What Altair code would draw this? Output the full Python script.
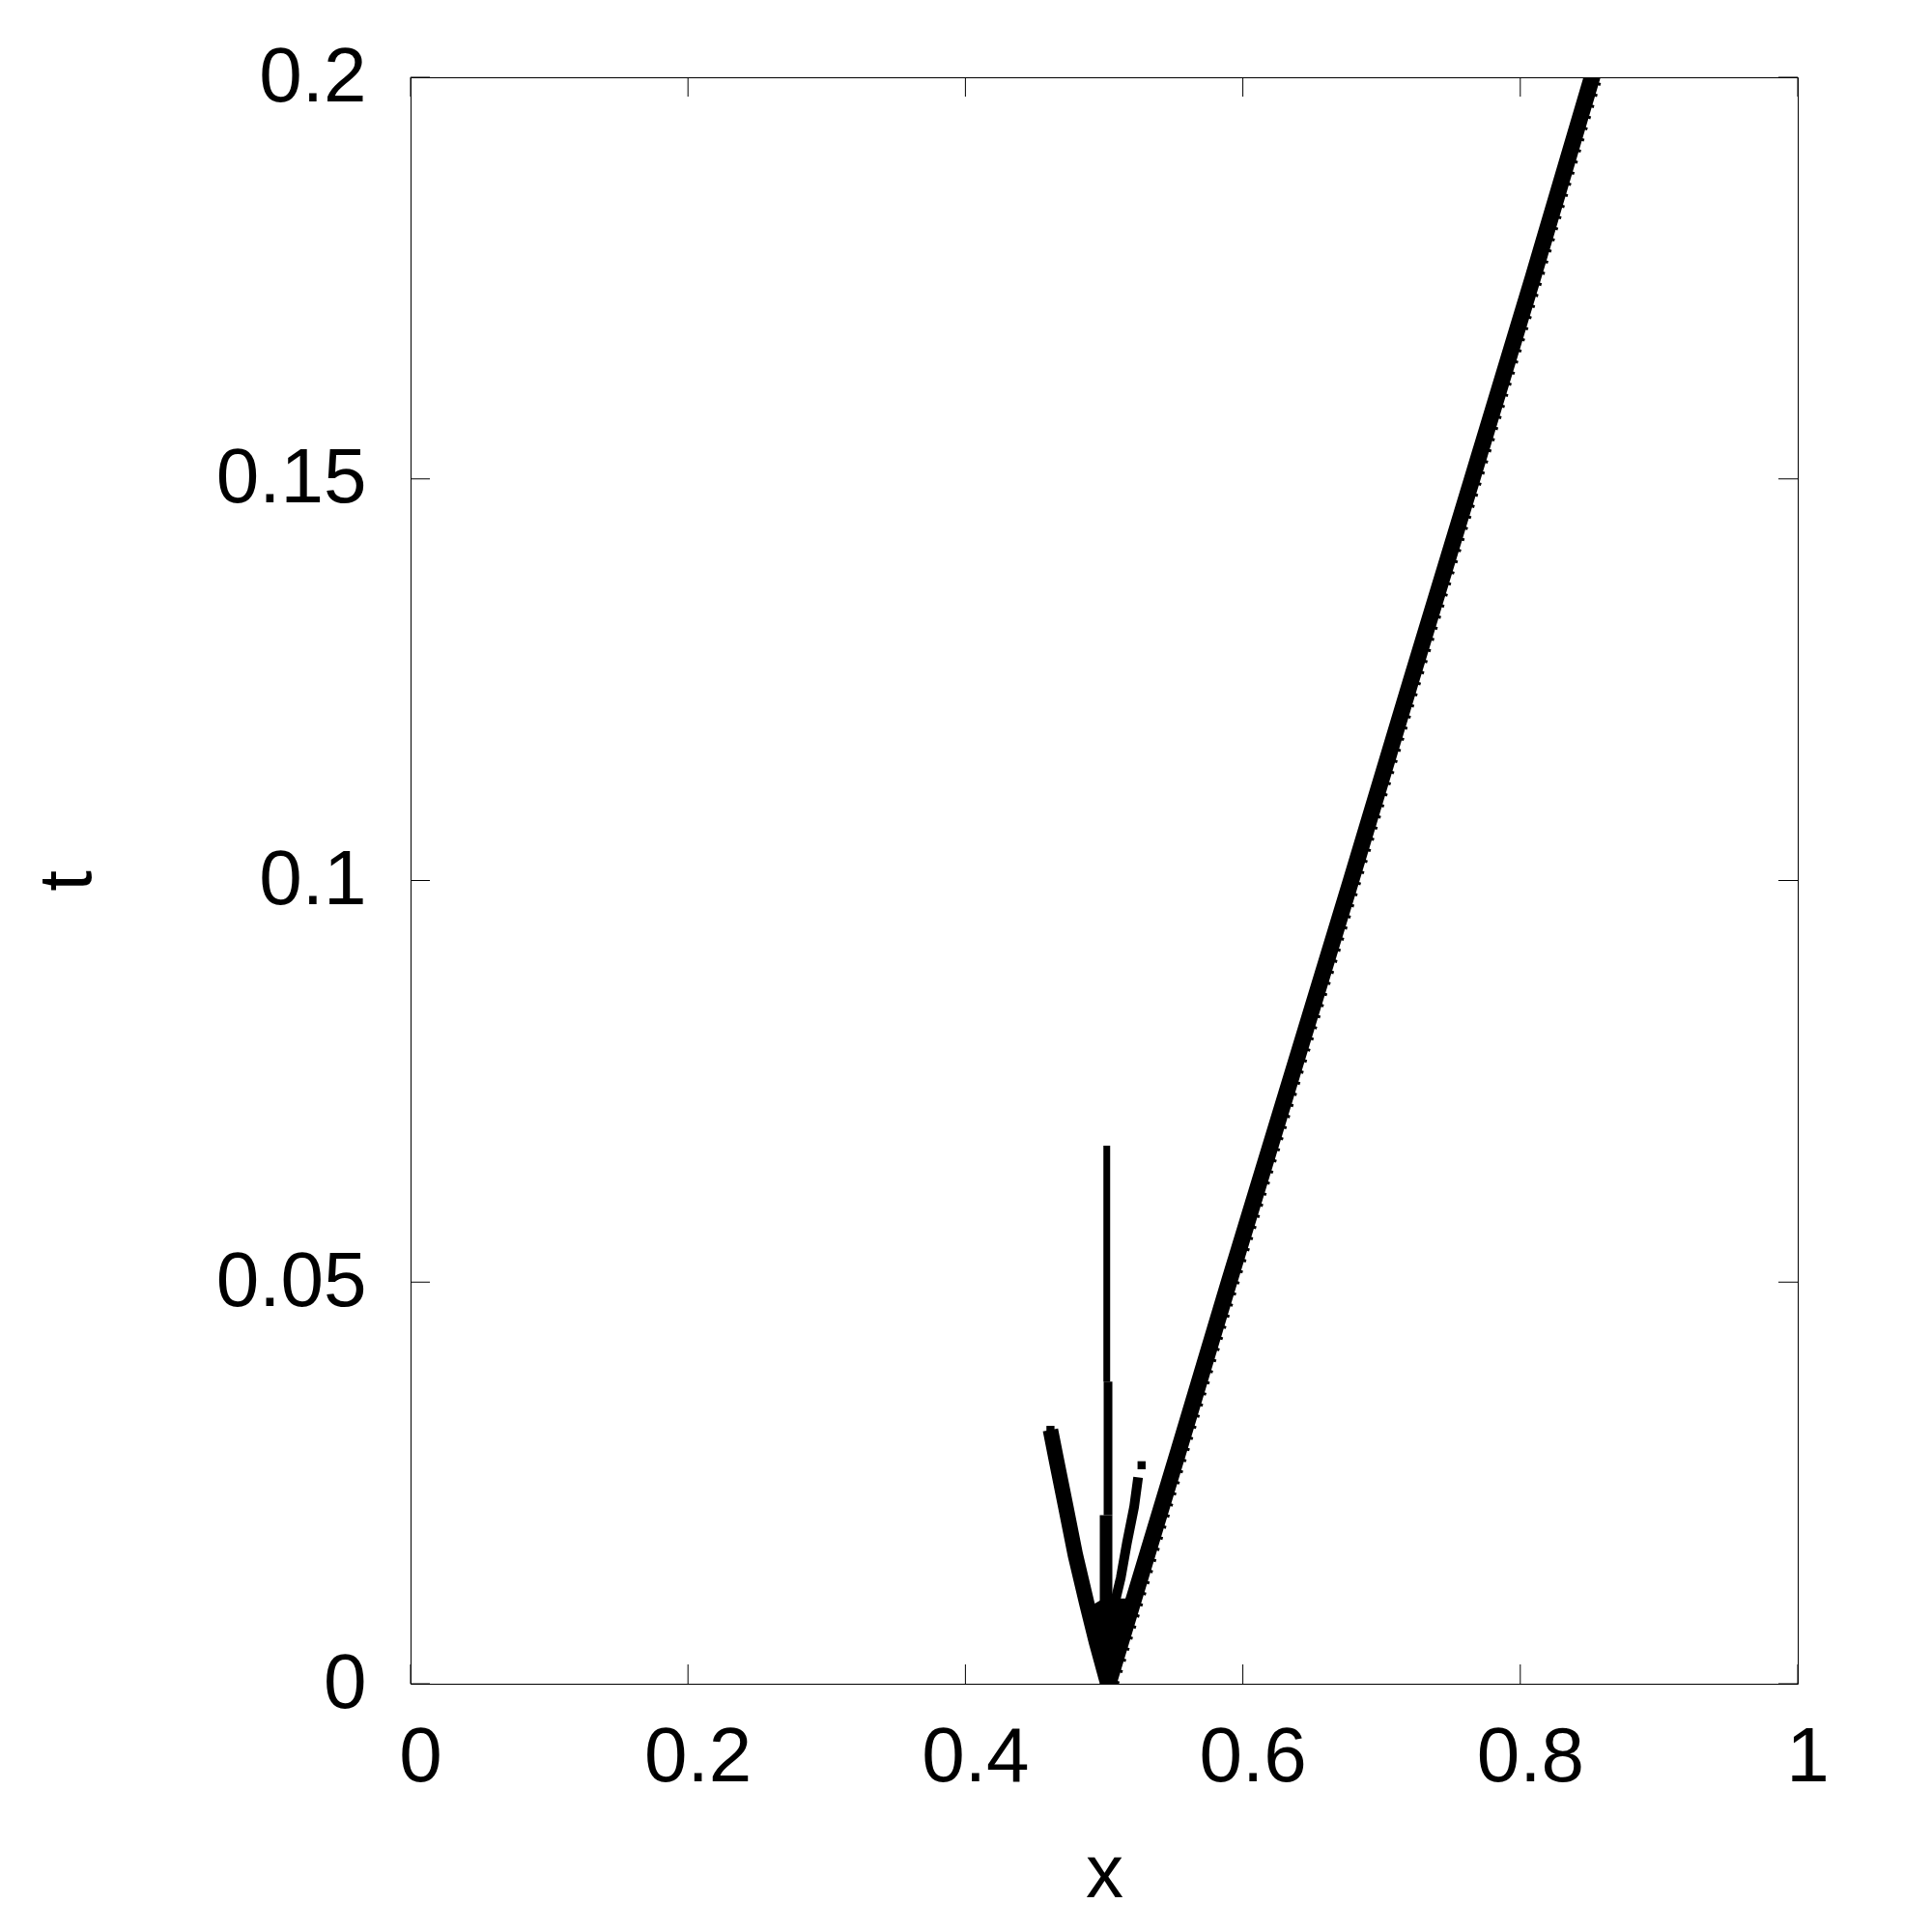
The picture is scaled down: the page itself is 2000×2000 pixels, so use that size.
import altair as alt
import pandas as pd

# ---- data ----
main_x = [0.503, 0.5285, 0.554, 0.590, 0.634, 0.678, 0.7214, 0.7653, 0.809, 0.8517]
main_t = [0.0, 0.0146, 0.0292, 0.05, 0.075, 0.1, 0.125, 0.15, 0.175, 0.2]

left_x = [0.4613, 0.4654, 0.4724, 0.4793, 0.4875, 0.4944, 0.502]
left_t = [0.0316, 0.0280, 0.0220, 0.0160, 0.0100, 0.0052, 0.0004]

small_x = [0.5245, 0.5216, 0.5165, 0.512, 0.508]
small_t = [0.0257, 0.022, 0.0176, 0.0132, 0.0103]

vert_x = [0.5019, 0.5028, 0.5014]
vert_t0 = [0.0376, 0.021, 0.0]
vert_t1 = [0.067, 0.0376, 0.021]

dot_x = [0.4613, 0.527]
dot_t = [0.0316, 0.0272]

fill_t = [0.0, 0.005, 0.0095, 0.0106]
fill_xl = [0.500, 0.4944, 0.4885, 0.4995]
fill_xr = [0.506, 0.512, 0.5196, 0.5215]

x_ticks = [0, 0.2, 0.4, 0.6, 0.8, 1]
y_ticks = [0, 0.05, 0.1, 0.15, 0.2]

W, H = 1436, 1663
TL = 20
FONT = "Liberation Sans"

xs = alt.Scale(domain=[0, 1], nice=False, zero=False)
ys = alt.Scale(domain=[0, 0.2], nice=False, zero=False)

xaxis = alt.Axis(values=x_ticks, format="~g", title="x", ticks=False, tickSize=0,
                 domain=False, grid=False, labelPadding=100, labelBaseline="alphabetic",
                 labelOffset=10, labelOverlap=False, labelFlush=False, labelBound=False,
                 titleY=220, titleBaseline="alphabetic")
yaxis = alt.Axis(values=y_ticks, format="~g", title="t", ticks=False, tickSize=0,
                 domain=False, grid=False, labelPadding=46, labelAlign="right",
                 labelBaseline="middle", labelOverlap=False, labelFlush=False, labelBound=False,
                 titleX=-332, titleY=831.5, titleBaseline="alphabetic", titleAngle=270)


def X(f):
    return alt.X(f, scale=xs, axis=xaxis)


def Y(f):
    return alt.Y(f, scale=ys, axis=yaxis)


main_df = pd.DataFrame({"x": main_x, "t": main_t})
left_df = pd.DataFrame({"x": left_x, "t": left_t})
small_df = pd.DataFrame({"x": small_x, "t": small_t})
vert_df = pd.DataFrame({"x": vert_x, "t0": vert_t0, "t1": vert_t1})
dot_df = pd.DataFrame({"x": dot_x, "t": dot_t})
fill_df = pd.DataFrame({"t": fill_t, "xl": fill_xl, "xr": fill_xr})
xt_df = pd.DataFrame({"v": x_ticks})
yt_df = pd.DataFrame({"v": y_ticks})

main = alt.Chart(main_df).mark_line(color="black", strokeWidth=17, strokeCap="square", clip=True).encode(
    x=X("x:Q"), y=Y("t:Q"), order="t:Q",
)

# serrated right edge, like the '+' point markers of the dense point cloud
main_edge = alt.Chart(main_df).mark_line(
    color="black", strokeWidth=4, strokeDash=[3, 9], xOffset=9, clip=True
).encode(
    x=X("x:Q"), y=Y("t:Q"), order="t:Q",
)

left = alt.Chart(left_df).mark_line(color="black", strokeWidth=16, strokeCap="butt", clip=True).encode(
    x=X("x:Q"), y=Y("t:Q"), order="t:Q",
)

small = alt.Chart(small_df).mark_line(color="black", strokeWidth=10, strokeCap="butt", clip=True).encode(
    x=X("x:Q"), y=Y("t:Q"), order="t:Q",
)

fill = alt.Chart(fill_df).mark_area(color="black", orient="horizontal", clip=True).encode(
    y=Y("t:Q"), x=X("xl:Q"), x2="xr:Q",
)

vwidths = [7, 9, 13]
verts = []
for i, sw in enumerate(vwidths):
    verts.append(
        alt.Chart(vert_df.iloc[[i]]).mark_rule(color="black", strokeWidth=sw, clip=True).encode(
            x=X("x:Q"), y=Y("t0:Q"), y2="t1:Q",
        )
    )

dots = alt.Chart(dot_df).mark_square(color="black", size=70, opacity=1, clip=True).encode(
    x=X("x:Q"), y=Y("t:Q"),
)

tick_style = dict(color="black", strokeWidth=1)
bt = alt.Chart(xt_df).mark_rule(**tick_style).encode(
    x=X("v:Q"), y=alt.value(H), y2=alt.value(H - TL))
tt = alt.Chart(xt_df).mark_rule(**tick_style).encode(
    x=X("v:Q"), y=alt.value(0), y2=alt.value(TL))
lt = alt.Chart(yt_df).mark_rule(**tick_style).encode(
    y=Y("v:Q"), x=alt.value(0), x2=alt.value(TL))
rt = alt.Chart(yt_df).mark_rule(**tick_style).encode(
    y=Y("v:Q"), x=alt.value(W), x2=alt.value(W - TL))

chart = alt.layer(main, main_edge, fill, left, small, *verts, dots, bt, tt, lt, rt).properties(
    width=W, height=H,
    autosize=alt.AutoSizeParams(type="none"),
    padding={"left": 417, "top": 72, "right": 131, "bottom": 249},
    background="white",
).configure_view(
    stroke="black", strokeWidth=1
).configure_axis(
    labelFont=FONT, labelFontSize=80, labelColor="black",
    titleFont=FONT, titleFontSize=78, titleColor="black", titleFontWeight="normal",
)

chart.save("out.html", embed_options={"renderer": "svg", "actions": False})
